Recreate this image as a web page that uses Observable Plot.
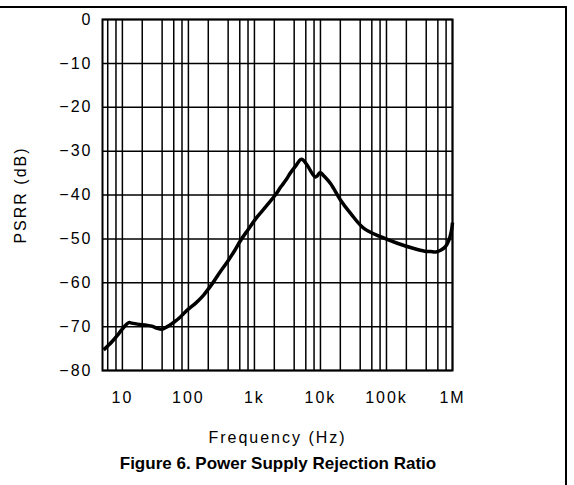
<!DOCTYPE html>
<html>
<head>
<meta charset="utf-8">
<script src="https://cdn.jsdelivr.net/npm/d3@7"></script>
<script src="https://cdn.jsdelivr.net/npm/@observablehq/plot@0.6"></script>
<style>
  html, body { margin: 0; padding: 0; background: #fff; }
  #wrap { position: relative; width: 574px; height: 485px; overflow: hidden; background: #fff; }
  #border { position: absolute; top: 6px; left: -10px; width: 575px; height: 500px;
            border-top: 2px solid #000; border-right: 2px solid #000; }
  #chart { position: absolute; top: 0; left: 0; }
  .psrr text { letter-spacing: 2px; }
  #title { position: absolute; left: 0; top: 453px; width: 556px; text-align: center;
           font-family: "Liberation Sans", Arial, sans-serif; font-weight: bold; font-size: 17px;
           line-height: 22px; color: #000; }
</style>
</head>
<body>
<div id="wrap">
  <div id="border"></div>
  <div id="chart"></div>
  <div id="title">Figure 6. Power Supply Rejection Ratio</div>
</div>
<script>
// Curve data (frequency in Hz, PSRR in dB)
const freqHz = [5.2, 7, 9, 11, 12.5, 14, 18, 22, 28, 34, 40, 48, 60, 72, 95, 128, 170, 230, 300, 390, 500, 620, 800, 1100, 1500, 2100, 2500, 3000, 3500, 4300, 5000, 5300, 6300, 7500, 8400, 9000, 9800, 11500, 14200, 20200, 28600, 45500, 81400, 146000, 260000, 380000, 467000, 560000, 661000, 780000, 883000, 960000, 1000000];
const psrrDb = [-75.3, -73.4, -71.4, -69.8, -69.1, -69.2, -69.5, -69.6, -69.9, -70.4, -70.6, -70.0, -69.0, -68.1, -66.3, -64.7, -62.8, -60.2, -57.6, -55.2, -52.7, -50.3, -47.9, -45.0, -42.6, -39.9, -38.2, -36.6, -35.0, -33.2, -31.9, -31.9, -33.2, -35.1, -35.9, -35.6, -34.9, -35.8, -37.4, -41.2, -44.2, -47.6, -49.5, -51.0, -52.2, -52.8, -52.9, -53.0, -52.6, -51.8, -50.3, -48.3, -46.3];

// Axis ticks and grid
const xTickValues = [10, 100, 1e3, 1e4, 1e5, 1e6];
const xTickLabels = ["10", "100", "1k", "10k", "100k", "1M"];
const xGrid = [6, 8, 10, 20, 40, 60, 80, 100, 200, 400, 600, 800, 1e3, 2e3, 4e3, 6e3, 8e3, 1e4, 2e4, 4e4, 6e4, 8e4, 1e5, 2e5, 4e5, 6e5, 8e5, 1e6];
const yTickValues = [0, -10, -20, -30, -40, -50, -60, -70, -80];
const yTickLabels = ["0", "−10", "−20", "−30", "−40", "−50", "−60", "−70", "−80"];

const xLabel = "Frequency (Hz)";
const yLabel = "PSRR (dB)";

const data = freqHz.map((f, i) => ({f, db: psrrDb[i]}));

const chart = Plot.plot({
  className: "psrr",
  width: 574,
  height: 448,
  marginLeft: 102,
  marginRight: 122,
  marginTop: 19,
  marginBottom: 78,
  style: {fontFamily: "'Liberation Sans', Arial, sans-serif", fontSize: "16px", color: "#000", background: "transparent"},
  x: {type: "log", domain: [5, 1e6]},
  y: {domain: [-80, 0]},
  marks: [
    Plot.ruleX(xGrid, {stroke: "#000", strokeWidth: 1.5}),
    Plot.ruleY(yTickValues, {stroke: "#000", strokeWidth: 1.5}),
    Plot.frame({stroke: "#000", strokeWidth: 2}),
    Plot.line(data, {x: "f", y: "db", stroke: "#000", strokeWidth: 3.5, curve: "catmull-rom", strokeLinejoin: "round", strokeLinecap: "butt"}),
    Plot.axisX(xTickValues, {tickSize: 0, tickPadding: 21, fontSize: 16,
      tickFormat: (d) => xTickLabels[xTickValues.indexOf(d)], label: null}),
    Plot.axisY(yTickValues, {tickSize: 0, tickPadding: 10, fontSize: 16,
      tickFormat: (d) => yTickLabels[yTickValues.indexOf(d)], label: null}),
    Plot.text([xLabel], {frameAnchor: "bottom", dy: 67, lineAnchor: "middle", textAnchor: "middle", fontSize: 16, fill: "#000"}),
    Plot.text([yLabel], {frameAnchor: "left", dx: -82, rotate: -90, textAnchor: "middle", lineAnchor: "middle", fontSize: 16, fill: "#000"})
  ]
});
document.getElementById("chart").appendChild(chart);
</script>
</body>
</html>
